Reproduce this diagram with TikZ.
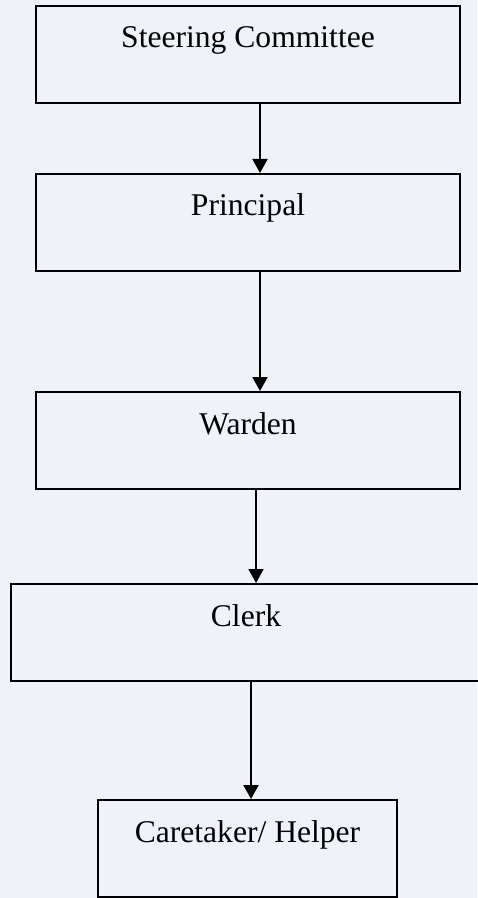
\documentclass[tikz,border=0pt]{standalone}
\usepackage{fontspec}
\setmainfont{Liberation Serif}
\usepackage{tikz}
\usetikzlibrary{arrows.meta}
\definecolor{scanbg}{RGB}{240,242,249}
\tikzset{post/.style={rectangle,draw,line width=1pt,inner sep=0pt,minimum width=212pt,text height=21pt,text depth=27.5pt,font=\fontsize{15.8pt}{18pt}\selectfont}}

\begin{document}
\begin{tikzpicture}[>={Triangle[width=7.5pt,length=7pt]},line width=1pt]
    \fill[scanbg] (0,0) rectangle (238.5pt,-449pt);
    \useasboundingbox (0,0) rectangle (238.5pt,-449pt);

    \node[post] (sc) at (124pt,-27.25pt) {Steering Committee};
    \node[post] (pr) at (124pt,-111.25pt) {Principal};
    \node[post] (wa) at (124pt,-220.25pt) {Warden};
    \node[post,minimum width=235pt] (cl) at (123pt,-316.25pt) {Clerk};
    \node[post,minimum width=149.5pt] (ca) at (123.75pt,-424.25pt) {Caretaker/ Helper};

    \draw [->] ([xshift=6pt]sc.south) -- ([xshift=6pt]pr.north);
    \draw [->] ([xshift=6pt]pr.south) -- ([xshift=6pt]wa.north);
    \draw [->] ([xshift=4pt]wa.south) -- ([xshift=5pt]cl.north);
    \draw [->] ([xshift=2.5pt]cl.south) -- ([xshift=1.75pt]ca.north);
\end{tikzpicture}
\end{document}
